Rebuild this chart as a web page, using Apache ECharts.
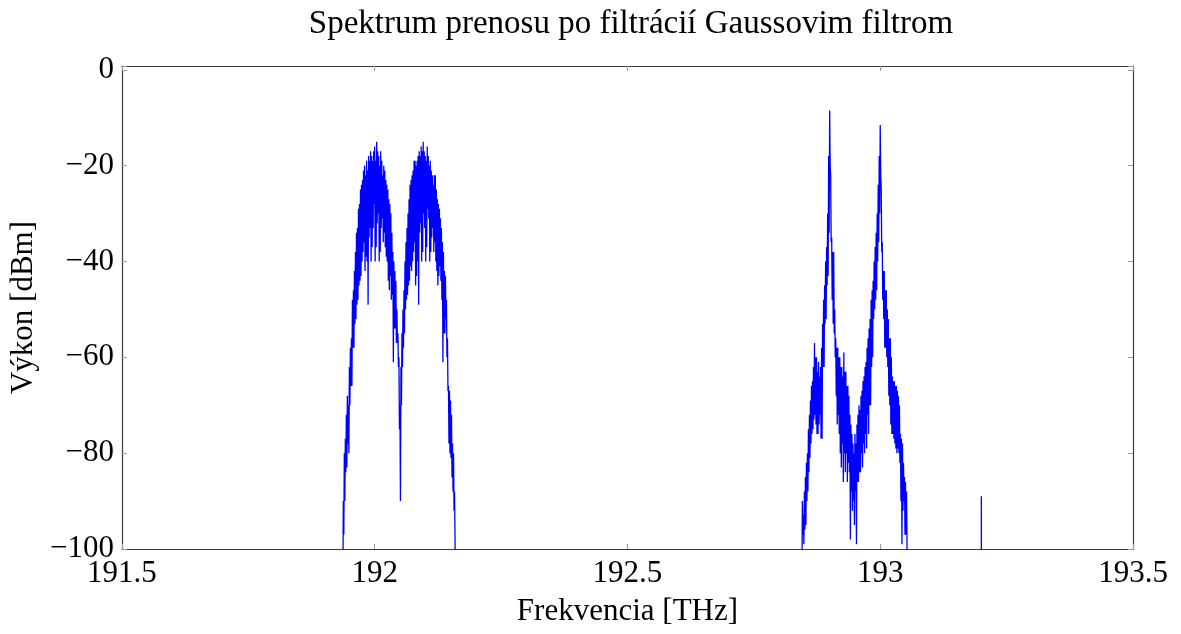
<!DOCTYPE html>
<html>
<head>
<meta charset="utf-8">
<script src="https://cdn.jsdelivr.net/npm/echarts@6/dist/echarts.min.js"></script>
<style>
  html, body { margin: 0; padding: 0; background: #fff; }
  #chart { width: 1181px; height: 634px; }
</style>
</head>
<body>
<div id="chart"></div>
<script>
// Spectrum trace stored as max/min power per 2 GHz bin (dBm), two bands + one spur
const binWidth = 0.002;             // THz
const floorLevel = -130;            // dBm, below the displayed range

const band1Start = 191.936;         // THz
const band1Max = [
  -130, -90, -80, -77, -72, -68, -70, -62, -58, -56,
  -48, -46, -42, -38, -34, -33, -29, -28, -25, -24,
  -23, -21, -20, -22, -19, -21, -18, -19, -17, -18,
  -19, -17, -16, -19, -15, -17, -18, -20, -17, -19,
  -22, -20, -21, -23, -24, -25, -27, -28, -30, -34,
  -38, -40, -42, -44, -50, -55, -60, -70, -62, -55,
  -50, -46, -40, -36, -33, -30, -27, -24, -23, -22,
  -21, -19, -19, -20, -19, -18, -17, -18, -16, -17,
  -15, -17, -18, -19, -16, -18, -20, -19, -21, -22,
  -24, -22, -22, -25, -27, -28, -29, -31, -33, -36,
  -38, -42, -43, -48, -56, -66, -67, -69, -72, -78,
  -80, -88, -130
];
const band1Min = [
  -130, -97, -90, -84, -83, -78, -80, -70, -66, -66,
  -58, -58, -53, -52, -49, -48, -45, -44, -43, -40,
  -38, -36, -42, -39, -40, -49, -35, -33, -40, -37,
  -33, -28, -40, -37, -32, -30, -40, -38, -33, -31,
  -36, -34, -37, -39, -40, -44, -46, -43, -48, -47,
  -61, -54, -54, -57, -57, -62, -75, -90, -70, -62,
  -58, -55, -50, -48, -47, -45, -44, -41, -42, -40,
  -38, -36, -45, -43, -40, -49, -34, -32, -40, -38,
  -30, -33, -40, -37, -29, -31, -40, -38, -35, -33,
  -38, -36, -40, -42, -45, -43, -41, -44, -48, -61,
  -55, -55, -52, -60, -67, -78, -80, -81, -85, -88,
  -92, -98, -130
];

const band2Start = 192.844;         // THz
const band2Max = [
  -130, -90, -93, -88, -85, -82, -80, -75, -72, -69,
  -66, -65, -62, -57, -60, -60, -63, -61, -64, -62,
  -58, -53, -48, -45, -40, -37, -30, -18, -8.5, -22,
  -35, -38, -38, -50, -56, -58, -58, -60, -60, -62,
  -62, -64, -59, -63, -63, -66, -66, -68, -72, -74,
  -76, -78, -80, -76, -78, -74, -72, -70, -71, -68,
  -67, -65, -64, -62, -61, -58, -56, -54, -52, -48,
  -46, -44, -40, -37, -34, -30, -24, -18, -11.5, -25,
  -36, -42, -42, -46, -46, -50, -52, -56, -56, -60,
  -64, -65, -65, -66, -66, -67, -68, -70, -76, -77,
  -78, -82, -85, -86, -88, -130
];
const band2Min = [
  -130, -97, -99, -96, -95, -90, -88, -84, -81, -78,
  -76, -75, -73, -72, -74, -76, -76, -74, -72, -77,
  -77, -62, -62, -53, -52, -45, -43, -34, -20, -36,
  -48, -53, -55, -60, -68, -74, -72, -76, -80, -83,
  -78, -86, -80, -84, -80, -86, -82, -84, -98, -88,
  -92, -90, -95, -88, -99, -86, -86, -84, -84, -80,
  -83, -78, -80, -76, -79, -72, -76, -70, -70, -62,
  -60, -52, -50, -48, -46, -40, -36, -30, -22, -38,
  -48, -52, -58, -58, -60, -62, -68, -70, -74, -76,
  -76, -77, -78, -79, -80, -79, -80, -82, -90, -99,
  -92, -90, -97, -97, -98, -130
];

// Isolated spur
const spurFreq = 193.2;             // THz
const spurPower = -89;              // dBm

const xTicks = [191.5, 192, 192.5, 193, 193.5];
const yTicks = [-100, -80, -60, -40, -20, 0];

const titleText = 'Spektrum prenosu po filtrácií Gaussovim filtrom';
const xName = 'Frekvencia [THz]';
const yName = 'Výkon [dBm]';

// Each bin is drawn as its max followed by its min, half a bin apart
function bandPoints(start, maxs, mins) {
  const pts = [];
  maxs.forEach((hi, i) => {
    const f = start + i * binWidth;
    pts.push([+f.toFixed(4), hi]);
    pts.push([+(f + binWidth / 2).toFixed(4), mins[i]]);
  });
  return pts;
}

const points = []
  .concat(bandPoints(band1Start, band1Max, band1Min))
  .concat(bandPoints(band2Start, band2Max, band2Min))
  .concat([[spurFreq, floorLevel], [spurFreq, spurPower], [spurFreq, floorLevel]]);

const FONT = 'Liberation Serif';
const frame = { show: true, onZero: false, lineStyle: { color: '#3a3a3a', width: 1.2 } };
const ticks = { show: true, inside: true, length: 5, lineStyle: { color: '#9a9a9a', width: 1 } };
const minus = s => String(s).replace('-', '\u2212');

const xInterval = xTicks[1] - xTicks[0];
const yInterval = yTicks[1] - yTicks[0];

const chart = echarts.init(document.getElementById('chart'), null, { renderer: 'canvas' });
chart.setOption({
  animation: false,
  backgroundColor: '#ffffff',
  title: {
    text: titleText,
    left: 626,
    top: 3,
    textAlign: 'center',
    textStyle: { fontFamily: FONT, fontSize: 33, fontWeight: 'normal', color: '#000' }
  },
  grid: { left: 120, right: 48, top: 66, bottom: 85 },
  xAxis: [{
    type: 'value',
    position: 'bottom',
    min: xTicks[0], max: xTicks[xTicks.length - 1], interval: xInterval,
    axisLine: frame, axisTick: ticks,
    splitLine: { show: false },
    axisLabel: { color: '#000', fontFamily: FONT, fontSize: 31, margin: 9 },
    name: xName, nameLocation: 'middle', nameGap: 47,
    nameTextStyle: { color: '#000', fontFamily: FONT, fontSize: 31 }
  }, {
    type: 'value',
    position: 'top',
    min: xTicks[0], max: xTicks[xTicks.length - 1], interval: xInterval,
    axisLine: frame, axisTick: ticks,
    splitLine: { show: false }, axisLabel: { show: false }
  }],
  yAxis: [{
    type: 'value',
    position: 'left',
    min: yTicks[0], max: 0.8, interval: yInterval,
    axisLine: frame, axisTick: ticks,
    splitLine: { show: false },
    axisLabel: {
      color: '#000', fontFamily: FONT, fontSize: 31, margin: 8,
      formatter: v => (yTicks.indexOf(v) >= 0 ? minus(v) : '')
    },
    name: yName, nameLocation: 'middle', nameGap: 77,
    nameTextStyle: { color: '#000', fontFamily: FONT, fontSize: 31 }
  }, {
    type: 'value',
    position: 'right',
    min: yTicks[0], max: 0.8, interval: yInterval,
    axisLine: frame, axisTick: ticks,
    splitLine: { show: false }, axisLabel: { show: false }
  }],
  series: [{
    type: 'line',
    data: points,
    showSymbol: false,
    symbol: 'none',
    clip: true,
    lineStyle: { color: '#0000ff', width: 1.3 },
    xAxisIndex: 0, yAxisIndex: 0
  }]
});
</script>
</body>
</html>
